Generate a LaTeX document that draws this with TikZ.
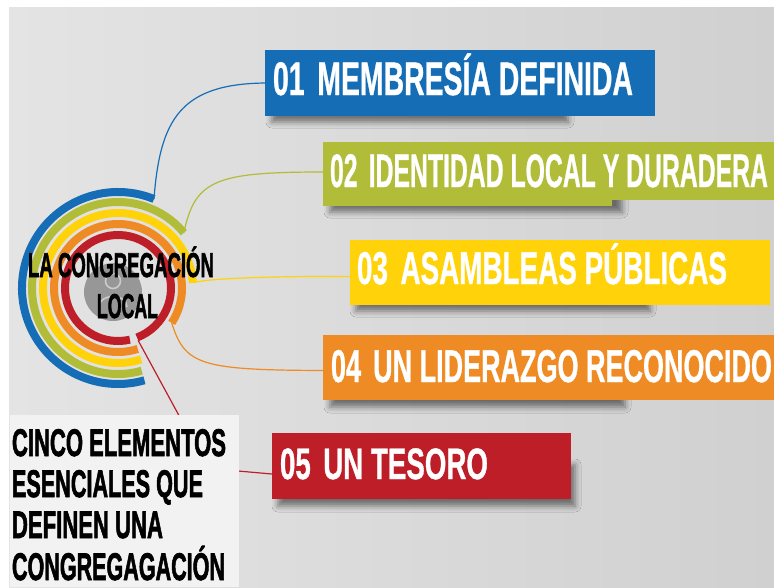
\documentclass[tikz,border=0pt]{standalone}
\usepackage{fontspec}
\usepackage{graphicx}
\usetikzlibrary{shadows.blur}
\newfontfamily\cf{Liberation Sans}[BoldFeatures={FakeBold=1}]
\newfontfamily\cfh{Liberation Sans}[BoldFeatures={FakeBold=2.2}]
\newcommand{\fitt}[2]{\resizebox{#1}{\height}{#2}}
\definecolor{cblue}{HTML}{156DB5}
\definecolor{cgreen}{HTML}{B1BC38}
\definecolor{cyellow}{HTML}{FFD209}
\definecolor{corange}{HTML}{EE8B25}
\definecolor{cred}{HTML}{BE1E27}
\definecolor{bgL}{HTML}{E4E4E4}
\definecolor{bgM}{HTML}{F6F6F6}
\definecolor{bgR}{HTML}{D0D0D0}
\definecolor{lbox}{HTML}{F2F2F2}
\begin{document}
\begin{tikzpicture}[x=1pt,y=-1pt,
  box/.style={rectangle, inner sep=0pt, outer sep=0pt, anchor=north west},
  ring/.style={line width=8pt},
  link/.style={line width=1.2pt},
  boxtext/.style={anchor=base west, inner sep=0pt, outer sep=0pt, text=white, font=\cf\bfseries\fontsize{47}{50}\selectfont},
  darktext/.style={anchor=base west, inner sep=0pt, outer sep=0pt, text=black, font=\cfh\bfseries\fontsize{38.5}{42}\selectfont},
  shadowbox/.style={blur shadow={shadow xshift=0pt, shadow yshift=0pt, shadow blur radius=6pt, shadow opacity=50}}]
\useasboundingbox (0,0) rectangle (774,587);
% background
\fill[white] (0,0) rectangle (774,587);
\shade[left color=bgL, middle color=bgM, right color=bgR] (9,7) rectangle (774,587);

% centre and rings
\coordinate (ctr) at (118,288);
\draw[ring, cblue]   (ctr) ++(68:96pt)  arc[start angle=68,  end angle=286, radius=96pt];
\draw[ring, cgreen]  (ctr) ++(40:86pt)  arc[start angle=40,  end angle=286, radius=86pt];
\draw[ring, cyellow] (ctr) ++(4:75pt)   arc[start angle=4,   end angle=288, radius=75pt];
\draw[ring, corange] (ctr) ++(-33:64pt) arc[start angle=-33, end angle=288, radius=64pt];
\draw[ring, cred]    (ctr) ++(-69:53pt) arc[start angle=-69, end angle=283, radius=53pt];
\path (ctr) ++(68:96pt) coordinate (c1);
\path (ctr) ++(40:86pt) coordinate (c2);
\path (ctr) ++(4:75pt) coordinate (c3);
\path (ctr) ++(-33:64pt) coordinate (c4);
\path (ctr) ++(-69:56pt) coordinate (c5);

% person icon
\fill[black!60, opacity=0.6] (113,292) circle[radius=29pt];
\draw[white, line width=1.6pt, opacity=0.5] (113,281) circle[radius=7.5pt];
\draw[white, line width=1.6pt, opacity=0.5] (99,307) .. controls (99,293) and (127,293) .. (127,307);

% shadows
\path[shadowbox] (272,70) rectangle (568,122);
\path[shadowbox] (330,170) rectangle (622,212);
\path[shadowbox] (356,268) rectangle (650,311);
\path[shadowbox] (330,365) rectangle (625,407);
\path[shadowbox] (278,465) rectangle (575,506);

% boxes
\node[box, fill=cblue,   minimum width=390pt, minimum height=66pt] (b1) at (265,50) {};
\node[box, fill=cgreen,  minimum width=451pt, minimum height=58pt] (b2) at (323,142) {};
\fill[cgreen] (323,199) rectangle (612,206);
\node[box, fill=cyellow, minimum width=420pt, minimum height=65pt] (b3) at (350,240) {};
\node[box, fill=corange, minimum width=451pt, minimum height=65pt] (b4) at (323,335) {};
\node[box, fill=cred,    minimum width=299pt, minimum height=66pt] (b5) at (272,433) {};

% connectors
\draw[link, cblue]   (c1) .. controls (160,120) and (180,84) .. (b1.west);
\draw[link, cgreen]  (c2) .. controls (195,180) and (215,172) .. ([yshift=-1pt]b2.west);
\draw[link, cyellow] (c3) .. controls (205,279) and (260,276) .. ([yshift=-4pt]b3.west);
\draw[link, corange] (c4) .. controls (185,365) and (200,370) .. ([yshift=-3pt]b4.west);
\coordinate (r1) at (195,445);
\draw[link, cred] (c5) -- (r1) -- (238,471) -- ([yshift=-8pt]b5.west);

% box texts
\node[boxtext] (t1) at (273,95) {\fitt{360pt}{01\hspace{0.45em}MEMBRESÍA DEFINIDA}};
\node[boxtext] (t2) at (330,187) {\fitt{438pt}{02\hspace{0.45em}IDENTIDAD LOCAL Y DURADERA}};
\node[boxtext, font=\cf\bfseries\fontsize{46}{50}\selectfont] (t3) at (357,284) {\fitt{370pt}{03\hspace{0.45em}ASAMBLEAS PÚBLICAS}};
\node[boxtext, font=\cf\bfseries\fontsize{46}{50}\selectfont] (t4) at (331,382) {\fitt{441pt}{04\hspace{0.45em}UN LIDERAZGO RECONOCIDO}};
\node[boxtext, font=\cf\bfseries\fontsize{44}{48}\selectfont] (t5) at (280,479) {\fitt{208pt}{05\hspace{0.45em}UN TESORO}};

% central title
\node[darktext, font=\cfh\bfseries\fontsize{34.5}{38}\selectfont] (ct1) at (28,277) {\fitt{186pt}{LA CONGREGACIÓN}};
\node[darktext, font=\cfh\bfseries\fontsize{34.5}{38}\selectfont] (ct2) at (97,318) {\fitt{61pt}{LOCAL}};

% bottom-left label
\node[box, fill=lbox, minimum width=229pt, minimum height=172pt] (lb) at (10,415) {};
\node[darktext] (l1) at (12,456) {\fitt{214pt}{CINCO ELEMENTOS}};
\node[darktext] (l2) at (12,497) {\fitt{191pt}{ESENCIALES QUE}};
\node[darktext] (l3) at (12,538) {\fitt{151pt}{DEFINEN UNA}};
\node[darktext] (l4) at (12,580) {\fitt{213pt}{CONGREGAGACIÓN}};
\end{tikzpicture}
\end{document}
